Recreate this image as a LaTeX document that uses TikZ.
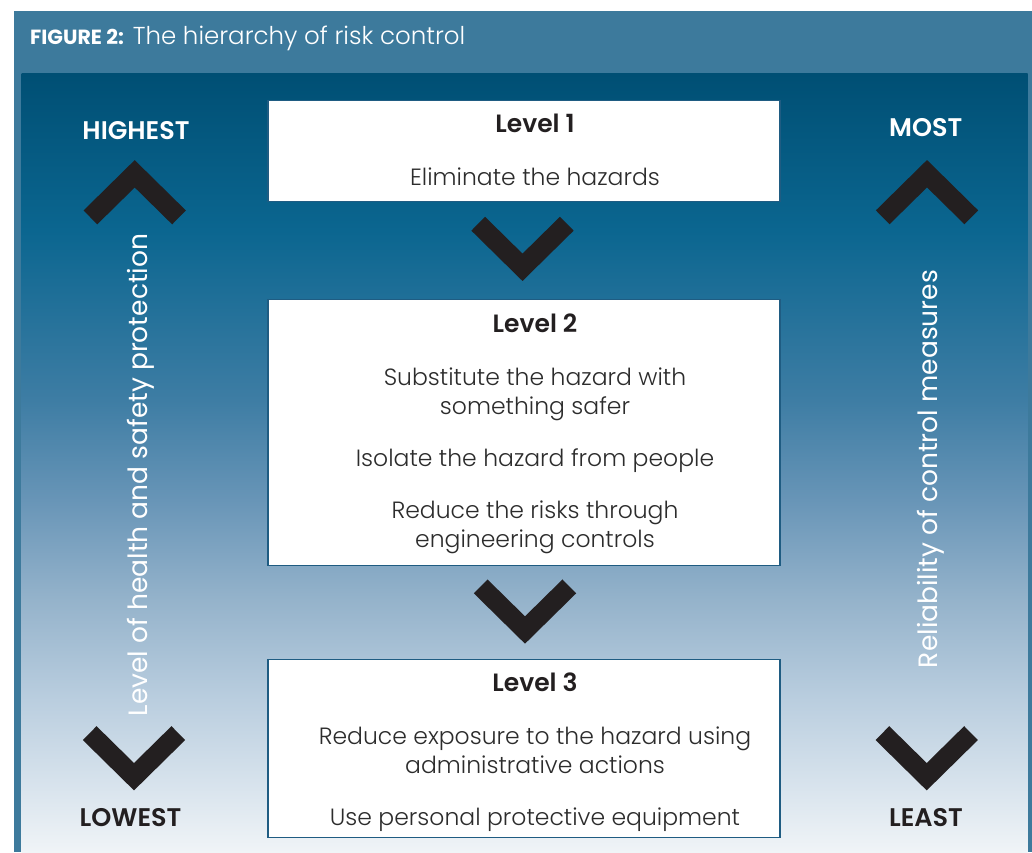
\documentclass[tikz,border=0pt]{standalone}
\usepackage{fontspec}
\setmainfont{Poppins}[UprightFont=* Light, BoldFont=* SemiBold]
\newfontface\headbold{Poppins Bold}
\newfontface\sideface{Poppins}
\usetikzlibrary{positioning}
\definecolor{frameblue}{HTML}{3D7A9C}
\definecolor{fadeA}{HTML}{004F74}
\definecolor{fadeB}{HTML}{0B6690}
\definecolor{fadeC}{HTML}{3E7DA4}
\definecolor{fadeD}{HTML}{6895B7}
\definecolor{fadeE}{HTML}{95B3CB}
\definecolor{fadeF}{HTML}{BACEDF}
\definecolor{fadeG}{HTML}{D6E2EC}
\definecolor{fadeH}{HTML}{F0F4F7}
\definecolor{chevron}{HTML}{231F20}
\definecolor{boxline}{HTML}{1F5C82}
\definecolor{bodytext}{HTML}{2C2C2C}
\pgfdeclareverticalshading{panelfade}{100bp}{color(0bp)=(fadeH); color(25bp)=(fadeH);
  color(29.6bp)=(fadeG); color(34.75bp)=(fadeF); color(41.15bp)=(fadeE);
  color(47.6bp)=(fadeD); color(54bp)=(fadeC); color(64.9bp)=(fadeB);
  color(75bp)=(fadeA); color(100bp)=(fadeA)}
\tikzset{
    %box of one level
    levelbox/.style={
    rectangle,
    draw=boxline, line width=1.2pt,
    fill=white,
    minimum width=512pt,
    inner sep=0pt
    },
    %texts in the boxes
    leveltitle/.style={
    anchor=base,
    inner sep=0pt,
    font=\fontsize{25}{29}\selectfont\bfseries,
    text=chevron
    },
    leveltext/.style={
    anchor=base,
    inner sep=0pt,
    align=center,
    font=\fontsize{23.5}{29}\selectfont,
    text=bodytext
    },
    %HIGHEST, LOWEST ...
    endword/.style={
    anchor=base,
    inner sep=0pt,
    font=\fontsize{25.5}{28}\selectfont\bfseries
    },
    sidetext/.style={
    rotate=90,
    anchor=base,
    inner sep=0pt,
    font=\sideface\fontsize{26.5}{30}\selectfont,
    text=white
    },
    % chevron marks
    chev/.style={
    draw=chevron,
    line width=19.5pt,
    line cap=butt,
    line join=miter
    }
}
\begin{document}
\begin{tikzpicture}[x=1pt,y=-1pt]
    \useasboundingbox (0,0) rectangle (1032,852);
    %frame and panel
    \fill[white] (0,0) rectangle (1032,852);
    \fill[frameblue] (13.5,10.5) rectangle (1032,852);
    \shade[shading=panelfade] (21.7,73.5) rectangle (1027.5,852);
    \node[anchor=base west,inner sep=0pt,text=white,font=\fontsize{24.5}{27}\selectfont] (figtitle) at (30,44.3)
        {{\headbold\fontsize{20.5}{22}\selectfont FIGURE 2:} The hierarchy of risk control};
    %boxes
    \node[levelbox, minimum height=101pt] (box1) at (524,151.2) {};
    \node[levelbox, minimum height=266pt] (box2) at (524,432.3) {};
    \node[levelbox, minimum height=178.4pt] (box3) at (524,748.5) {};
    %texts of the boxes (base = last line)
    \node[leveltitle] (lvl1) at (535,132.3) {Level 1};
    \node[leveltext] (elim) at (535,185) {Eliminate the hazards};
    \node[leveltitle] (lvl2) at (535,332.3) {Level 2};
    \node[leveltext] (subst) at (535,414) {Substitute the hazard with\\something safer};
    \node[leveltext] (isol) at (535,466.7) {Isolate the hazard from people};
    \node[leveltext] (engin) at (535,547.3) {Reduce the risks through\\engineering controls};
    \node[leveltitle] (lvl3) at (535,691.5) {Level 3};
    \node[leveltext] (admin) at (535,773.5) {Reduce exposure to the hazard using\\administrative actions};
    \node[leveltext] (ppe) at (535,825) {Use personal protective equipment};
    %side labels
    \node[endword, text=white] (highest) at (136,139) {HIGHEST};
    \node[endword, text=chevron] (lowest) at (130.5,826.7) {LOWEST};
    \node[endword, text=white] (most) at (925.7,136) {MOST};
    \node[endword, text=chevron] (least) at (926,826.7) {LEAST};
    \node[sidetext] (protect) at (147,475) {Level of health and safety protection};
    \node[sidetext] (reliab) at (937,469) {Reliability of control measures};
    %chevrons
    \coordinate (down1) at (522.5,267.3);
    \coordinate (down2) at (525,630);
    \coordinate (upL) at (134.7,173.8);
    \coordinate (upR) at (927,173.7);
    \coordinate (downL) at (134,776.7);
    \coordinate (downR) at (926.7,776.7);
    \foreach \c in {down1,down2,downL,downR}
        \draw[chev] (\c) ++(-44.3,-43.6) -- (\c) -- ++(44.3,-43.6);
    \foreach \c in {upL,upR}
        \draw[chev] (\c) ++(-44.3,43.6) -- (\c) -- ++(44.3,43.6);
\end{tikzpicture}
\end{document}
